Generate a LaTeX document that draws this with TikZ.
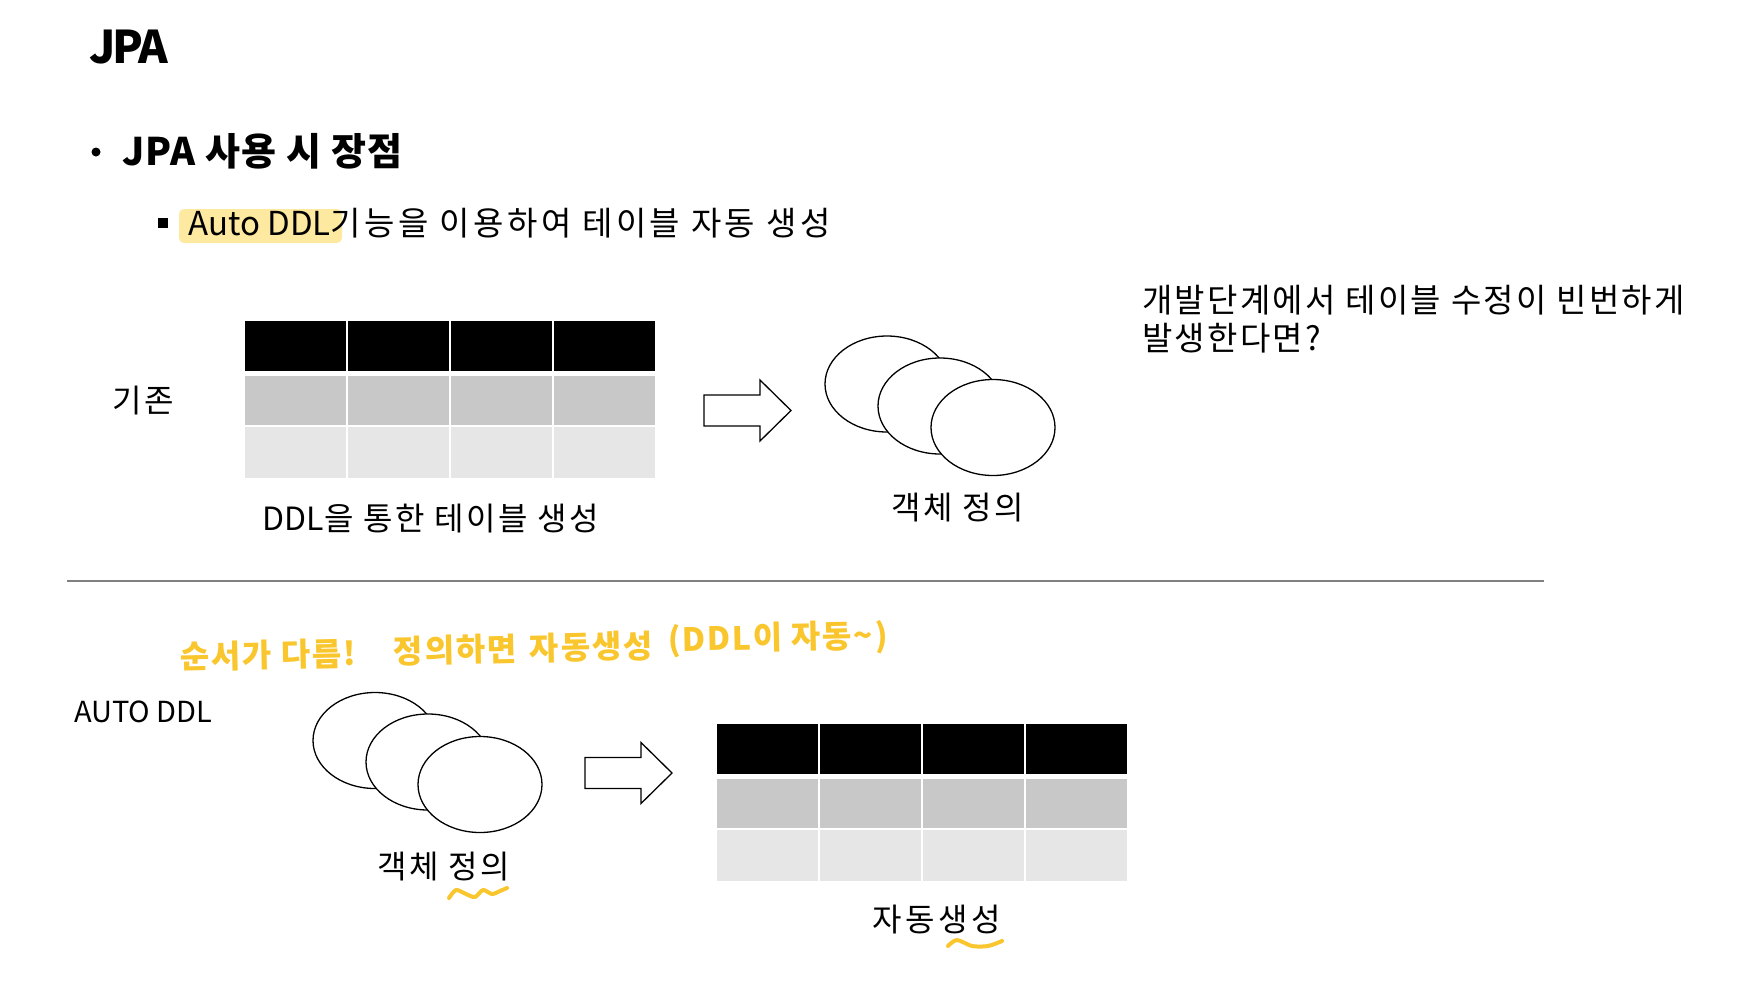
\documentclass[tikz,border=0pt]{standalone}
\usepackage{fontspec}
\setmainfont{Noto Sans CJK KR}
\usetikzlibrary{positioning,calc,shapes.geometric}

\definecolor{hlyellow}{RGB}{253,233,160}
\definecolor{penyellow}{RGB}{250,198,45}
\definecolor{cellgray}{RGB}{200,200,200}
\definecolor{celllight}{RGB}{230,230,230}

\tikzset{
    txt/.style={inner sep=0pt, font=\fontsize{32}{38}\selectfont\addfontfeature{LetterSpace=8}},
    bigtxt/.style={inner sep=0pt, font=\fontsize{33}{38}\selectfont},
    headtxt/.style={inner sep=0pt, font=\fontsize{38}{44}\selectfont\bfseries\addfontfeature{LetterSpace=3}},
    titletxt/.style={inner sep=0pt, font=\fontsize{45}{54}\selectfont\bfseries\addfontfeature{LetterSpace=-6}},
    pentxt/.style={inner sep=0pt, text=penyellow, rotate=1.2, font=\fontsize{32}{38}\selectfont\bfseries\addfontfeature{LetterSpace=5}},
    objell/.style={ellipse, draw, line width=1.3pt, fill=white, minimum width=124pt, minimum height=96pt, inner sep=0pt},
    squiggle/.style={penyellow, line width=4pt, line cap=round, line join=round},
    blockarrow/.pic={
        \draw [line width=1.3pt, fill=white] (0,-15.5) -- (56,-15.5) -- (56,-30.5) -- (87,0) -- (56,30.5) -- (56,15.5) -- (0,15.5) -- cycle;
    },
    dbtable/.pic={
        \foreach \c in {0,...,3} {
            \fill [black] ({\c*103},0) rectangle ++(101,50);
            \fill [cellgray] ({\c*103},55) rectangle ++(101,49);
            \fill [celllight] ({\c*103},106) rectangle ++(101,51);
        }
    }
}

\begin{document}
\begin{tikzpicture}[x=1pt, y=-1pt]
    \fill [white] (0,0) rectangle (1752,985);
    \useasboundingbox (0,0) rectangle (1752,985);

    % heading
    \node [titletxt, anchor=base west] (title) at (89,63) {JPA};
    \fill (96,152) circle (4.5);
    \node [headtxt, anchor=base west] (merit) at (122,165) {JPA 사용 시 장점};
    \fill (158,218) rectangle (168,228);
    \fill [hlyellow, rounded corners=5pt] (179,209) rectangle (342,243);
    \node [bigtxt, anchor=base west] (autoddl) at (188,235) {Auto DDL{\addfontfeature{LetterSpace=10.5}기능을 이용하여 테이블 자동 생성}};

    \node [bigtxt, font=\fontsize{33}{38}\selectfont\addfontfeature{LetterSpace=7}, anchor=base west] (q1) at (1142,312) {개발단계에서 테이블 수정이 빈번하게};
    \node [bigtxt, font=\fontsize{33}{38}\selectfont\addfontfeature{LetterSpace=7}, anchor=base west] (q2) at ([yshift=-38pt]q1.base west) {발생한다면?};

    % existing way
    \node [txt] (old) at (143.5,401) {기존};
    \pic at (245,321) {dbtable};
    \node [txt, font=\fontsize{32}{38}\selectfont] (oldtab) at (431,519) {DDL{\addfontfeature{LetterSpace=8}을 통한 테이블 생성}};
    \pic at (704,410.5) {blockarrow};
    \node [objell] (oa) at (887,384) {};
    \node [objell] (ob) at (940,406) {};
    \node [objell] (oc) at (993,427.5) {};
    \node [txt] (oldobj) at (958,508) {객체 정의};

    \draw [gray, line width=1.3pt] (67,581) -- (1544,581);

    % handwritten notes
    \node [pentxt] (n1) at (268,655) {순서가 다름!};
    \node [pentxt] (n2) at (455,650) {정의하면};
    \node [pentxt] (n3) at (591,647) {자동생성};
    \node [pentxt] (n4) at (778,639) {(DDL이 자동\textasciitilde)};

    % auto ddl
    \node [txt, font=\fontsize{29}{34}\selectfont, anchor=west] (auto) at (74,712) {AUTO DDL};
    \node [objell] (na) at (375,740.5) {};
    \node [objell] (nb) at (428,762) {};
    \node [objell] (nc) at (480,784.5) {};
    \node [txt] (newobj) at (444,867) {객체 정의};
    \pic at (585,773) {blockarrow};
    \pic at (717,724) {dbtable};
    \node [txt, font=\fontsize{32}{38}\selectfont\addfontfeature{LetterSpace=11}] (newtab) at (937,920) {자동생성};

    \draw [squiggle] plot [smooth] coordinates {(449,898) (456,890) (466,894) (475,897) (483,890) (492,894) (500,891) (507,888)};
    \draw [squiggle] plot [smooth] coordinates {(948,946) (957,940) (972,946) (988,946) (1002,941)};
\end{tikzpicture}
\end{document}
